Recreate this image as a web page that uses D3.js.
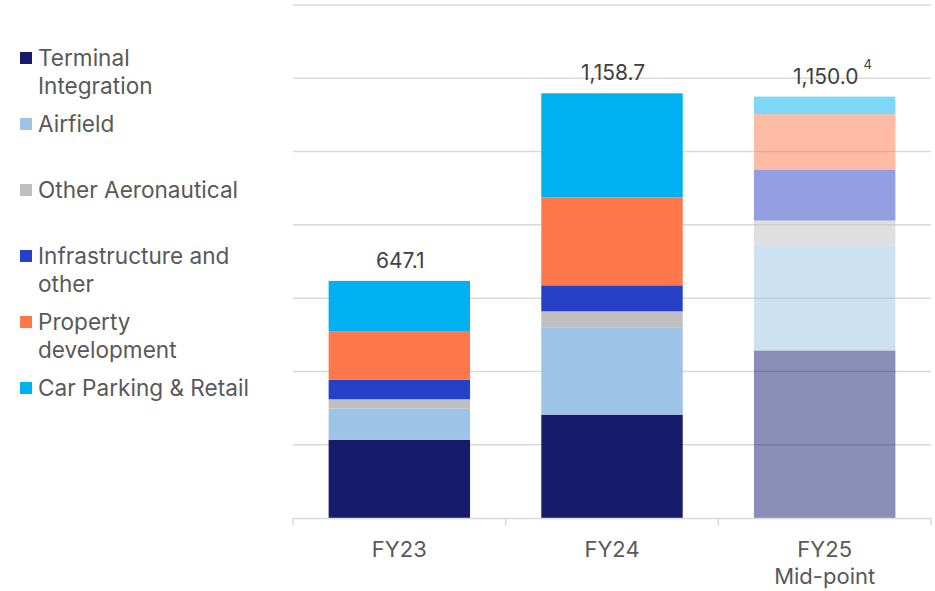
<!DOCTYPE html>
<html>
<head>
<meta charset="utf-8">
<script src="https://cdn.jsdelivr.net/npm/d3@7"></script>
<style>
  body { margin: 0; background: #fff; }
  text { font-family: Inter, "Open Sans", sans-serif; }
</style>
</head>
<body>
<div id="chart"></div>
<script>
// data
const categories = ['FY23', 'FY24', 'FY25'];
const categoryLines = [['FY23'], ['FY24'], ['FY25', 'Mid-point']];
const seriesNames = ['Terminal Integration', 'Airfield', 'Other Aeronautical', 'Infrastructure and other', 'Property development', 'Car Parking & Retail'];
const legendLines = [['Terminal', 'Integration'], ['Airfield'], ['Other Aeronautical'], ['Infrastructure and', 'other'], ['Property', 'development'], ['Car Parking & Retail']];
const terminal = [213, 282, 457];
const airfield = [86, 237, 286];
const otherAero = [25, 45, 69];
const infra = [53, 71, 138];
const property = [133, 240, 152];
const carParking = [137, 284, 48];
const totalLabels = ['647.1', '1,158.7', '1,150.0'];
const totalNotes = ['', '', '4'];
const gridTicks = [200, 400, 600, 800, 1000, 1200, 1400];

const colors = ['#161c6b', '#9dc3e6', '#bfbfbf', '#2541c8', '#ff774a', '#00b0f0'];

const draw = () => {
    const width = 935;
    const height = 591;

    const svg = d3.select('#chart')
        .append('svg')
        .attr('width', width)
        .attr('height', height);

    const rows = categories.map((c, i) => ({
        category: c,
        s0: terminal[i], s1: airfield[i], s2: otherAero[i],
        s3: infra[i], s4: property[i], s5: carParking[i],
    }));
    const keys = ['s0', 's1', 's2', 's3', 's4', 's5'];
    const stacked = d3.stack().keys(keys)(rows);

    // scales
    const xScale = d3.scaleBand()
        .domain(categories)
        .range([293, 931])
        .paddingInner(0.335)
        .paddingOuter(0.1675);

    const yScale = d3.scaleLinear()
        .domain([0, 1400])
        .range([518, 5]);

    // gridlines
    svg.append('g')
        .selectAll('line')
        .data(gridTicks)
        .join('line')
        .attr('x1', 293)
        .attr('x2', 931)
        .attr('y1', d => yScale(d))
        .attr('y2', d => yScale(d))
        .attr('stroke', '#d9d9d9')
        .attr('stroke-width', 1.5);

    // bars
    svg.append('g')
        .selectAll('g')
        .data(stacked)
        .join('g')
        .attr('fill', (d, i) => colors[i])
        .selectAll('rect')
        .data(d => d)
        .join('rect')
        .attr('x', d => xScale(d.data.category))
        .attr('width', xScale.bandwidth())
        .attr('y', d => yScale(d[1]))
        .attr('height', d => yScale(d[0]) - yScale(d[1]))
        .attr('fill-opacity', d => d.data.category === 'FY25' ? 0.5 : 1);

    // x axis
    const step = xScale.step();
    const axis = svg.append('g');
    axis.append('line')
        .attr('x1', 293).attr('x2', 931)
        .attr('y1', 518.5).attr('y2', 518.5)
        .attr('stroke', '#d9d9d9')
        .attr('stroke-width', 1.5);
    axis.selectAll('.tick')
        .data(d3.range(categories.length + 1))
        .join('line')
        .attr('class', 'tick')
        .attr('x1', i => 293 + i * step)
        .attr('x2', i => 293 + i * step)
        .attr('y1', 518)
        .attr('y2', 525)
        .attr('stroke', '#d9d9d9')
        .attr('stroke-width', 1.5);

    const xLabels = axis.selectAll('.xlabel')
        .data(categories)
        .join('text')
        .attr('class', 'xlabel')
        .attr('text-anchor', 'middle')
        .attr('fill', '#595959')
        .style('font-size', '22px');
    xLabels.selectAll('tspan')
        .data((d, i) => categoryLines[i].map(t => ({ t, c: d })))
        .join('tspan')
        .attr('x', d => xScale(d.c) + xScale.bandwidth() / 2)
        .attr('y', (d, j) => 557 + j * 27)
        .text(d => d.t);

    // totals
    const totals = categories.map((c, i) => terminal[i] + airfield[i] + otherAero[i] + infra[i] + property[i] + carParking[i]);
    const totalGroup = svg.append('g');
    const totalText = totalGroup.selectAll('.total')
        .data(categories)
        .join('text')
        .attr('class', 'total')
        .attr('x', d => xScale(d) + xScale.bandwidth() / 2 + 1)
        .attr('y', (d, i) => yScale(totals[i]) - 13)
        .attr('text-anchor', 'middle')
        .attr('fill', '#404040')
        .style('font-size', '21px')
        .text((d, i) => totalLabels[i]);

    // footnote markers
    totalText.each(function (d, i) {
        if (!totalNotes[i]) return;
        const w = this.getComputedTextLength();
        totalGroup.append('text')
            .attr('x', xScale(d) + xScale.bandwidth() / 2 + 1 + w / 2 + 5)
            .attr('y', yScale(totals[i]) - 28)
            .attr('fill', '#404040')
            .style('font-size', '13px')
            .text(totalNotes[i]);
    });

    // legend
    const legend = svg.append('g')
        .selectAll('g')
        .data(seriesNames)
        .join('g')
        .attr('transform', (d, i) => `translate(20, ${66 + i * 66})`);
    legend.append('rect')
        .attr('x', 0)
        .attr('y', -14)
        .attr('width', 12)
        .attr('height', 12)
        .attr('fill', (d, i) => colors[i]);
    legend.append('text')
        .attr('fill', '#595959')
        .style('font-size', '22.6px')
        .selectAll('tspan')
        .data((d, i) => legendLines[i])
        .join('tspan')
        .attr('x', 18)
        .attr('y', (d, j) => j * 28)
        .text(d => d);
}

draw();
</script>
</body>
</html>
